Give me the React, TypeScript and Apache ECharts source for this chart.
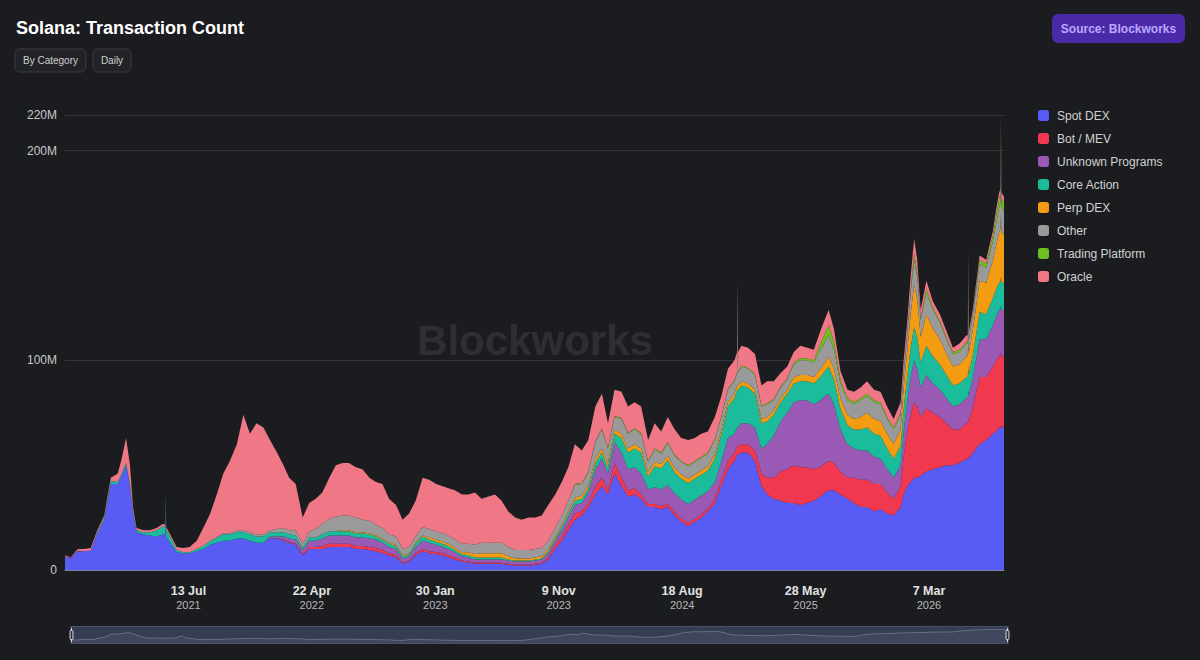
import React, { useEffect, useRef } from "react";
import * as echarts from "echarts";

// Sample dates (daily chart sampled roughly twice a month, plus a few spike days)
const dates = [
  "2020-10-03", "2020-10-16", "2020-11-01", "2020-11-16", "2020-12-01", "2020-12-16", "2021-01-01", "2021-01-16", "2021-02-01", "2021-02-10",
  "2021-02-20", "2021-03-01", "2021-03-08", "2021-03-16", "2021-04-01", "2021-04-16", "2021-05-01", "2021-05-16", "2021-05-21", "2021-05-22",
  "2021-05-23", "2021-06-01", "2021-06-16", "2021-07-01", "2021-07-16", "2021-08-01", "2021-08-16", "2021-09-01", "2021-09-16", "2021-10-01",
  "2021-10-16", "2021-11-01", "2021-11-16", "2021-12-01", "2021-12-16", "2022-01-01", "2022-01-16", "2022-02-01", "2022-02-16", "2022-03-01",
  "2022-03-16", "2022-04-01", "2022-04-16", "2022-05-01", "2022-05-16", "2022-06-01", "2022-06-16", "2022-07-01", "2022-07-16", "2022-08-01",
  "2022-08-16", "2022-09-01", "2022-09-16", "2022-10-01", "2022-10-16", "2022-11-01", "2022-11-16", "2022-12-01", "2022-12-16", "2023-01-01",
  "2023-01-16", "2023-02-01", "2023-02-16", "2023-03-01", "2023-03-16", "2023-04-01", "2023-04-16", "2023-05-01", "2023-05-16", "2023-06-01",
  "2023-06-16", "2023-07-01", "2023-07-16", "2023-08-01", "2023-08-16", "2023-09-01", "2023-09-16", "2023-10-01", "2023-10-16", "2023-11-01",
  "2023-11-16", "2023-12-01", "2023-12-16", "2024-01-01", "2024-01-16", "2024-02-01", "2024-02-16", "2024-03-01", "2024-03-16", "2024-04-01",
  "2024-04-16", "2024-05-01", "2024-05-16", "2024-06-01", "2024-06-16", "2024-07-01", "2024-07-16", "2024-08-01", "2024-08-16", "2024-09-01",
  "2024-09-16", "2024-10-01", "2024-10-16", "2024-11-01", "2024-11-16", "2024-12-01", "2024-12-16", "2024-12-22", "2024-12-23", "2024-12-24",
  "2025-01-01", "2025-01-16", "2025-02-01", "2025-02-16", "2025-03-01", "2025-03-16", "2025-04-01", "2025-04-16", "2025-05-01", "2025-05-16",
  "2025-06-01", "2025-06-16", "2025-07-01", "2025-07-12", "2025-07-20", "2025-08-01", "2025-08-16", "2025-09-01", "2025-09-16", "2025-10-01",
  "2025-10-16", "2025-11-01", "2025-11-16", "2025-12-01", "2025-12-16", "2026-01-01", "2026-01-08", "2026-01-16", "2026-01-24", "2026-02-01",
  "2026-02-08", "2026-02-16", "2026-03-01", "2026-03-16", "2026-04-01", "2026-04-16", "2026-05-01", "2026-05-16", "2026-06-01", "2026-06-04",
  "2026-06-05", "2026-06-06", "2026-06-16", "2026-07-01", "2026-07-16", "2026-08-01", "2026-08-08", "2026-08-15", "2026-08-18", "2026-08-19",
  "2026-08-20", "2026-08-26",
];

// Daily transactions, millions
const spotDex = [
  6.3, 5.4, 9, 9, 9.3, 17.5, 24, 41, 41, 45,
  50, 40, 27, 18, 17, 16.5, 16, 17, 17, 31,
  16, 13, 8.5, 8, 8, 9, 10, 12, 13, 14,
  14, 15, 15, 14, 13, 13, 15, 15, 14, 13,
  12, 7, 10, 10, 10, 11, 11, 11, 11, 10,
  10, 9.5, 9, 8, 7, 6, 3, 4, 7, 9,
  8, 7.5, 7, 6, 5, 4, 3.5, 3, 3, 3,
  3, 3, 2.5, 2, 2, 2, 2.5, 3, 5, 10,
  14, 19, 24, 26, 30, 36, 40, 36, 46, 40,
  35, 36, 34, 30, 30, 29, 30, 26, 23, 21,
  23, 25, 28, 32, 40, 48, 52, 55, 55, 55,
  56, 56, 52, 40, 36, 34, 33, 32, 32, 31,
  32, 33, 35, 37, 38, 38, 36, 34, 32, 30,
  30, 28, 29, 27, 26, 30, 36, 40, 42, 44,
  44, 45, 47, 48, 49, 50, 50, 51, 53, 53,
  54, 53, 56, 60, 62, 65, 66, 68, 68, 69,
  68, 68,
];
const botMev = [
  0, 0, 0, 0, 0, 0, 0, 0, 0, 0,
  0, 0, 0, 0, 0, 0, 0, 0, 0, 0,
  0, 0, 0, 0, 0, 0, 0, 0, 0, 0,
  0, 0, 0, 0, 0, 0, 0, 0, 0.5, 0.5,
  0.5, 0.5, 1, 1, 1.5, 1.5, 1.5, 1.5, 1.5, 1.5,
  1.5, 1.5, 1.5, 1.5, 1, 1, 0.5, 0.5, 1, 1,
  1, 1, 1, 1, 1, 0.5, 0.5, 0.5, 0.5, 0.5,
  0.5, 0.5, 0.5, 0.5, 0.5, 0.5, 0.5, 0.5, 1, 2,
  2, 2.5, 3, 2, 2, 4, 4, 2, 5, 4,
  3, 3, 2, 1.5, 1.5, 1.5, 1.5, 1.5, 1.5, 1.5,
  1.5, 1.5, 1.5, 2, 3, 4, 4, 4, 4, 4,
  4, 4, 5, 6, 8, 10, 14, 16, 18, 18,
  17, 15, 14, 14, 14, 13, 11, 10, 12, 13,
  13, 13, 12, 10, 8, 10, 18, 26, 32, 36,
  34, 28, 30, 27, 24, 20, 17, 16, 17, 17,
  18, 18, 22, 32, 30, 32, 34, 34, 35, 35,
  34, 34,
];
const unknownPrograms = [
  0.3, 0.3, 0.3, 0, 0, 0, 0, 0, 0, 0,
  0, 0, 0, 0, 0, 0, 0, 0, 0, 0,
  0, 0, 0, 0, 0, 0, 0, 0, 0, 0,
  0, 0, 0, 0, 0, 0, 1, 1, 1.5, 1.5,
  2, 2, 3, 3, 3.5, 4, 4, 4, 4, 4,
  4, 4, 4, 3.5, 3, 3, 2, 2, 3, 4,
  4, 3.5, 3, 3, 2.5, 2, 2, 1.5, 1.5, 1.5,
  1.5, 1.5, 1.5, 1.5, 1.5, 1.5, 1.5, 1.5, 2, 2,
  3, 3.5, 4, 4, 5, 8, 9, 8, 10, 12,
  10, 10, 10, 7, 8, 8, 9, 9, 9, 9,
  9, 9, 8, 8, 9, 11, 9, 9, 9, 9,
  10, 10, 11, 12, 16, 20, 24, 27, 30, 32,
  32, 31, 32, 32, 32, 28, 20, 16, 14, 14,
  14, 13, 12, 11, 10, 10, 12, 14, 18, 20,
  18, 14, 16, 14, 13, 12, 11, 12, 12, 12,
  14, 12, 14, 18, 18, 20, 21, 22, 22, 22,
  22, 22,
];
const coreAction = [
  0, 0, 0, 0, 0, 0.5, 1, 1.5, 1, 1,
  1, 1, 1, 1, 1, 1.5, 3, 4, 3.5, 4,
  3.5, 3, 1, 0.5, 0.5, 1, 1.5, 2, 2.5, 3,
  3, 3, 3, 3, 3, 3, 2, 2, 2, 2,
  2, 1, 1.5, 1.5, 2, 2, 2, 2, 2, 2,
  2, 2, 1.5, 1.5, 1.5, 1.5, 1, 1, 1.5, 2,
  1.5, 1.5, 1.5, 1.5, 1, 1, 1, 1, 1, 1,
  1, 1, 0.5, 0.5, 0.5, 0.5, 0.5, 0.5, 1, 1,
  1.5, 2, 2, 2, 2, 3, 3, 3, 4, 7,
  8, 9, 10, 6, 10, 10, 12, 10, 10, 10,
  10, 10, 10, 11, 13, 15, 17, 18, 18, 18,
  18, 17, 16, 12, 11, 10, 9, 9, 9, 9,
  9, 10, 11, 12, 13, 12, 10, 9, 9, 10,
  11, 11, 11, 10, 9, 9, 11, 12, 14, 16,
  15, 12, 14, 13, 12, 11, 10, 10, 10, 10,
  12, 10, 11, 13, 12, 13, 13, 13, 13, 14,
  13, 13,
];
const perpDex = [
  0, 0, 0, 0, 0, 0, 0, 0, 0, 0,
  0, 0, 0, 0, 0, 0, 0, 0, 0, 0,
  0, 0, 0, 0, 0, 0, 0, 0, 0, 0,
  0, 0, 0, 0, 0, 0, 0, 0, 0, 0,
  0, 0, 0, 0, 0, 0, 0, 0.5, 0.5, 0.5,
  0.5, 0.5, 0.5, 0.5, 0.5, 0.5, 0.5, 0.5, 0.5, 0.5,
  1, 1, 1, 1, 1, 1, 1.5, 1.5, 2, 2,
  2, 2, 1.5, 1, 1, 1, 1, 1, 1, 1,
  1, 1, 1.5, 1.5, 1.5, 2, 2, 2, 2, 2,
  2, 2, 2, 2, 2, 2, 2, 2, 2, 2,
  2, 2, 2, 2, 2, 2, 2, 2, 2, 2,
  2, 2, 2, 2, 2, 2, 2, 2, 3, 3,
  3, 3, 4, 4, 5, 5, 5, 5, 5, 6,
  7, 7, 7, 7, 7, 8, 10, 12, 16, 20,
  18, 12, 15, 13, 12, 10, 9, 9, 10, 10,
  14, 10, 12, 15, 15, 18, 21, 24, 25, 30,
  24, 23,
];
const other = [
  0, 0, 0, 0, 0, 0, 0, 0, 0, 0,
  0, 0, 0, 0, 0, 0, 0, 0, 0, 0,
  0, 0, 0, 0, 0, 0, 0, 0, 0, 0.5,
  0.5, 1, 1, 1, 1, 1, 1, 1.5, 2, 2,
  2.5, 2, 3, 4, 5, 6, 7, 7, 7, 7,
  6, 6, 5, 5, 4, 4, 3, 3, 3, 4,
  4, 4, 4, 4, 4, 4, 4, 4.5, 5, 5,
  5, 5, 4.5, 4, 4, 4, 4, 4, 4, 4,
  4.5, 5, 6, 5.5, 6, 8, 9, 7, 6, 7,
  7, 7, 7, 5, 6, 5, 6, 6, 6, 6,
  6, 6, 6, 7, 6, 6, 6, 6, 40, 6,
  7, 7, 7, 6, 6, 5, 5, 5, 6, 7,
  7, 7, 9, 10, 10, 9, 7, 7, 7, 8,
  8, 8, 8, 7, 7, 7, 7, 8, 10, 12,
  11, 8, 10, 9, 8, 7, 6, 6, 6, 6,
  30, 6, 7, 8, 7, 9, 10, 12, 12, 35,
  12, 11,
];
const tradingPlatform = [
  0, 0, 0, 0, 0, 0, 0, 0, 0, 0,
  0, 0, 0, 0, 0, 0, 0, 0, 0, 0,
  0, 0, 0, 0, 0, 0, 0, 0, 0, 0,
  0, 0, 0, 0, 0, 0, 0, 0, 0, 0,
  0, 0, 0, 0, 0, 0, 0, 0, 0, 0,
  0, 0, 0, 0, 0, 0, 0, 0, 0, 0,
  0, 0, 0, 0, 0, 0, 0, 0, 0, 0,
  0, 0, 0, 0, 0, 0, 0, 0, 0, 0,
  0, 0, 0.5, 0.5, 0.5, 0.5, 0.5, 0.5, 0.5, 0.5,
  0.5, 0.5, 0.5, 0.5, 0.5, 0.5, 0.5, 0.5, 0.5, 0.5,
  0.5, 0.5, 0.5, 0.5, 0.5, 0.5, 0.5, 0.5, 0.5, 0.5,
  0.5, 0.5, 0.5, 0.5, 0.5, 0.5, 0.5, 0.5, 1, 1,
  1, 1, 3, 4, 5, 4, 2, 1, 1, 1,
  1, 1, 1, 1, 1, 1, 1, 1, 2, 3,
  2, 1, 2, 1, 1, 1, 1, 1, 1, 1,
  2, 1, 1, 2, 2, 3, 4, 4, 4, 8,
  4, 4,
];
const oracle = [
  0.4, 0.3, 0.7, 1, 1.2, 1, 1, 1.5, 4, 7,
  12, 9, 2, 1, 1, 1, 1, 1, 1, 1,
  1, 1, 1.5, 2, 2.5, 4, 8.5, 13, 20.5, 28.5,
  34.5, 41, 55, 47, 53, 51, 43, 36.5, 30, 25,
  22, 12.5, 13.5, 14.5, 15, 19.5, 24.5, 25, 25, 24,
  24, 20.5, 20.5, 21, 17, 15, 14, 16, 17, 23.5,
  23.5, 22.5, 22.5, 22.5, 23.5, 23.5, 23.5, 25, 21, 22,
  23, 20, 17, 15.5, 14.5, 15.5, 15, 15.5, 17, 16,
  16, 16, 19, 15.5, 15, 16.5, 16.5, 11.5, 12.5, 12.5,
  12.5, 12.5, 12.5, 10, 12, 10, 12, 12, 11, 12,
  11, 11, 10, 10.5, 9.5, 9.5, 9.5, 9.5, 9.5, 9.5,
  9.5, 9.5, 9.5, 9.5, 10.5, 8.5, 6.5, 5.5, 5, 6,
  5, 5, 6, 7, 7, 6, 4, 4, 5, 5,
  6, 5, 5, 5, 4, 5, 5, 5, 6, 7,
  6, 4, 4, 3, 3, 3, 2, 3, 3, 3,
  8, 3, 2, 2, 2, 2, 3, 3, 3, 4,
  3, 3,
];

const categoryNames = ["Spot DEX", "Bot / MEV", "Unknown Programs", "Core Action", "Perp DEX", "Other", "Trading Platform", "Oracle"];
const categoryColors = ["#585CF5", "#F0394F", "#9B59B6", "#1ABC9C", "#F39C12", "#9A9A9A", "#6DBE1E", "#F07886"];
const categoryValues = [spotDex, botMev, unknownPrograms, coreAction, perpDex, other, tradingPlatform, oracle];

const MONTHS = ["Jan", "Feb", "Mar", "Apr", "May", "Jun", "Jul", "Aug", "Sep", "Oct", "Nov", "Dec"];
const START = Date.UTC(2020, 9, 3);
const DAY = 86400000;
const LABEL_STEP_DAYS = 283;
const BG = "#1b1c1f";

const dayIndex = (s: string) => {
  const [y, m, d] = s.split("-").map(Number);
  return Math.round((Date.UTC(y, m - 1, d) - START) / DAY);
};

export default function App() {
  const ref = useRef<HTMLDivElement>(null);
  useEffect(() => {
    document.body.style.margin = "0";
    document.body.style.background = BG;
    const chart = echarts.init(ref.current!, null, { renderer: "svg" });
    const xs = dates.map(dayIndex);
    const font = "'Liberation Sans', Arial, Helvetica, sans-serif";

    // value first so that ECharts stacks the value dimension (by index), day second on x
    const series = categoryNames.map((name, i) => ({
      name,
      type: "line",
      stack: "total",
      symbol: "none",
      showSymbol: false,
      color: categoryColors[i],
      lineStyle: { width: 0 },
      areaStyle: { opacity: 1, color: categoryColors[i] },
      emphasis: { disabled: true },
      encode: { x: 1, y: 0 },
      data: xs.map((x, j) => [categoryValues[i][j], x]),
    }));

    chart.setOption({
      animation: false,
      backgroundColor: BG,
      textStyle: { fontFamily: font },
      grid: { left: 65, right: 196, top: 115, bottom: 90, containLabel: false },
      legend: {
        orient: "vertical",
        left: 1033,
        top: 104,
        icon: "roundRect",
        itemWidth: 11,
        itemHeight: 11,
        itemGap: 10,
        data: categoryNames,
        textStyle: { color: "#d2d2d2", fontSize: 12, lineHeight: 13, padding: [0, 0, 0, 3], fontFamily: font },
      },
      xAxis: {
        type: "value",
        min: 0,
        max: "dataMax",
        interval: LABEL_STEP_DAYS,
        axisLine: { show: true, lineStyle: { color: "#7d84a3", width: 1 } },
        axisTick: { show: false },
        splitLine: { show: false },
        axisLabel: {
          showMinLabel: false,
          showMaxLabel: false,
          margin: 13,
          formatter: (v: number) => {
            if (v === 0 || v % LABEL_STEP_DAYS !== 0) return "";
            const d = new Date(START + v * DAY);
            return `{a|${d.getUTCDate()} ${MONTHS[d.getUTCMonth()]}}\n{b|${d.getUTCFullYear()}}`;
          },
          rich: {
            a: { fontSize: 12.5, fontWeight: "bold", color: "#e2e2e2", lineHeight: 15, fontFamily: font },
            b: { fontSize: 11, color: "#b9b9b9", lineHeight: 14, fontFamily: font },
          },
        },
      },
      yAxis: {
        type: "value",
        min: 0,
        max: "dataMax",
        interval: 100,
        axisLine: { show: false },
        axisTick: { show: false },
        splitLine: { lineStyle: { color: "#34353a", width: 1 } },
        axisLabel: {
          color: "#c9c9c9",
          fontSize: 12,
          margin: 8,
          fontFamily: font,
          formatter: (v: number) => (v === 0 ? "0" : `${Math.round(v / 10) * 10}M`),
        },
      },
      dataZoom: [
        {
          type: "slider",
          xAxisIndex: 0,
          start: 0,
          end: 100,
          left: 68,
          right: 194,
          top: 626,
          height: 18,
          showDetail: false,
          brushSelect: false,
          backgroundColor: "rgba(0,0,0,0)",
          borderColor: "#4a5068",
          fillerColor: "rgba(95,108,150,0.42)",
          dataBackground: {
            lineStyle: { color: "#8c93ad", width: 0.6, opacity: 0.9 },
            areaStyle: { color: "#8c93ad", opacity: 0.12 },
          },
          selectedDataBackground: {
            lineStyle: { color: "#9aa1bb", width: 0.6 },
            areaStyle: { color: "#9aa1bb", opacity: 0.12 },
          },
          handleSize: "80%",
          handleStyle: { color: "#2a2d38", borderColor: "#d8dbe6", borderWidth: 1 },
          moveHandleSize: 6,
          moveHandleStyle: { color: "#646c8a", opacity: 1 },
          emphasis: { moveHandleStyle: { color: "#646c8a" } },
        },
      ],
      graphic: [
        {
          type: "text",
          z: 0,
          silent: true,
          style: {
            text: "Blockworks",
            font: `bold 42px ${font}`,
            fill: "#2e2f34",
            textAlign: "center",
            textVerticalAlign: "middle",
            x: 535,
            y: 340,
          },
        },
        {
          type: "text",
          z: 10,
          style: {
            text: "Solana: Transaction Count",
            x: 16,
            y: 28,
            font: `bold 18px ${font}`,
            fill: "#ffffff",
            textVerticalAlign: "middle",
          },
        },
        {
          type: "rect",
          z: 10,
          shape: { x: 15, y: 49, width: 71, height: 23, r: 5 },
          style: { fill: "#222327", stroke: "#3b3c41", lineWidth: 1 },
        },
        {
          type: "text",
          z: 11,
          style: {
            text: "By Category",
            x: 50.5,
            y: 60.5,
            font: `10px ${font}`,
            fill: "#cfcfcf",
            textAlign: "center",
            textVerticalAlign: "middle",
          },
        },
        {
          type: "rect",
          z: 10,
          shape: { x: 93, y: 49, width: 38, height: 23, r: 5 },
          style: { fill: "#222327", stroke: "#3b3c41", lineWidth: 1 },
        },
        {
          type: "text",
          z: 11,
          style: {
            text: "Daily",
            x: 112,
            y: 60.5,
            font: `10px ${font}`,
            fill: "#cfcfcf",
            textAlign: "center",
            textVerticalAlign: "middle",
          },
        },
        {
          type: "rect",
          z: 10,
          shape: { x: 1052, y: 14, width: 133, height: 29, r: 6 },
          style: { fill: "#4b2aa7" },
        },
        {
          type: "text",
          z: 11,
          style: {
            text: "Source: Blockworks",
            x: 1118.5,
            y: 28.5,
            font: `bold 12px ${font}`,
            fill: "#bba8ff",
            textAlign: "center",
            textVerticalAlign: "middle",
          },
        },
      ],
      series,
    });
    return () => chart.dispose();
  }, []);
  return (
    <div
      ref={ref}
      style={{ position: "fixed", left: 0, top: 0, width: 1200, height: 660, background: BG }}
    />
  );
}
